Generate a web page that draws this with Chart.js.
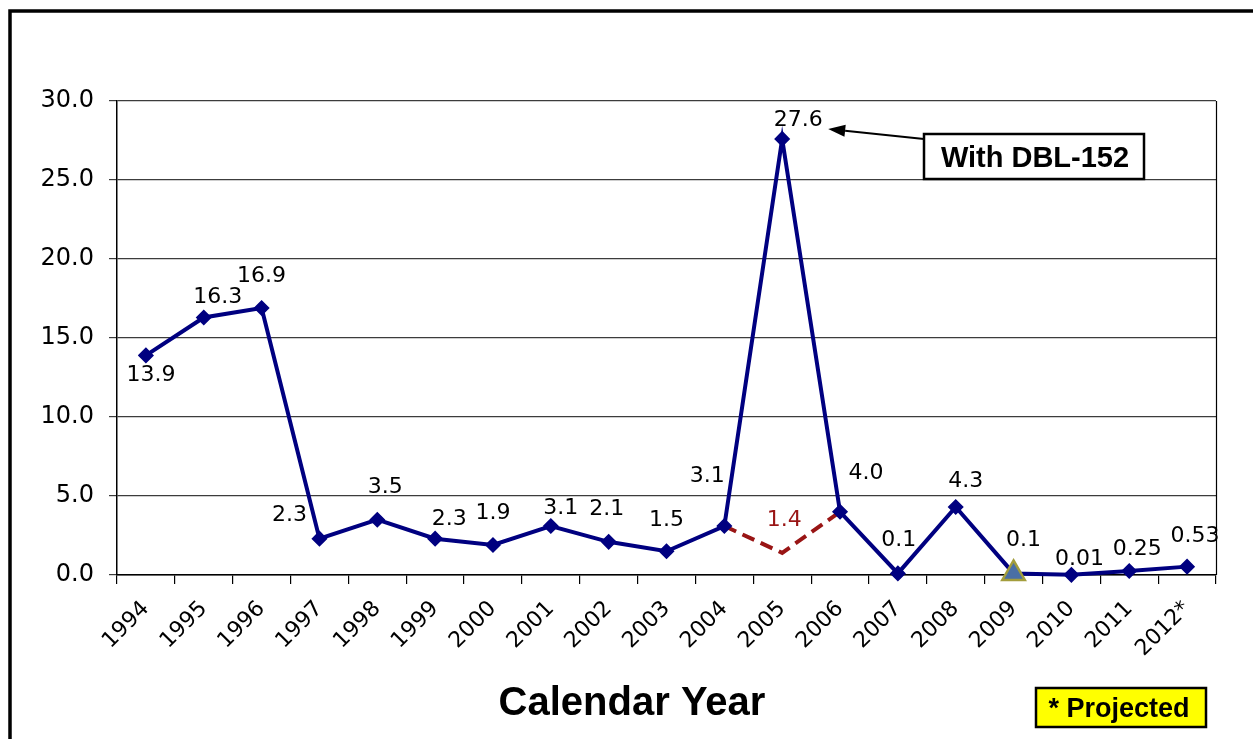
<!DOCTYPE html>
<html>
<head>
<meta charset="utf-8">
<script src="https://cdn.jsdelivr.net/npm/chart.js@4.4.0/dist/chart.umd.min.js"></script>
<style>
  html, body { margin: 0; padding: 0; background: #ffffff; }
  #wrap { width: 1253px; height: 739px; position: relative; }
</style>
</head>
<body>
<div id="wrap"><canvas id="chart" width="1253" height="739"></canvas></div>
<script>
// Calendar years on the category axis
const years = ['1994', '1995', '1996', '1997', '1998', '1999', '2000', '2001', '2002', '2003',
               '2004', '2005', '2006', '2007', '2008', '2009', '2010', '2011', '2012*'];

// Main series (solid navy line)
const values = [13.9, 16.3, 16.9, 2.3, 3.5, 2.3, 1.9, 3.1, 2.1, 1.5,
                3.1, 27.6, 4.0, 0.1, 4.3, 0.1, 0.01, 0.25, 0.53];

// Alternative 2004-2006 path (dashed red line)
const altValues = [null, null, null, null, null, null, null, null, null, null,
                   3.1, 1.4, 4.0, null, null, null, null, null, null];

// Y axis tick values
const yTicks = [0, 5, 10, 15, 20, 25, 30];

// Label placement relative to each point (pixels)
const labelOffsets = [[5, 20], [14, -20], [0, -32], [-30, -23], [8, -32], [14, -19], [0, -32],
                      [10, -18], [-2, -33], [0, -31], [-17, -50], [16, -19], [26, -39], [1, -33],
                      [10, -26], [10, -33], [8, -16], [8, -22], [8, -30]];
const altLabelOffset = [2, -33];

const NAVY = '#000080';
const DARK_RED = '#991515';
const FONT = '"DejaVu Sans", Arial, sans-serif';
const BOLD_FONT = '"Liberation Sans", Arial, sans-serif';

function fmt(v) {
  return Math.abs(v * 10 - Math.round(v * 10)) < 1e-9 ? v.toFixed(1) : v.toFixed(2);
}

const pointStyles = years.map(y => (y === '2009' ? 'triangle' : 'rectRot'));
const pointRadii = years.map(y => (y === '2009' ? 13 : 7));
const pointFills = years.map(y => (y === '2009' ? '#4a6fa5' : NAVY));
const pointEdges = years.map(y => (y === '2009' ? '#a39d3c' : NAVY));
const pointEdgeWidths = years.map(y => (y === '2009' ? 2.5 : 1.5));

// Frame, plot right edge, value labels and annotations
const decorations = {
  id: 'decorations',
  beforeDraw(chart) {
    const ctx = chart.ctx;
    ctx.save();
    ctx.fillStyle = '#ffffff';
    ctx.fillRect(0, 0, chart.width, chart.height);
    ctx.restore();
  },
  afterDatasetsDraw(chart) {
    const ctx = chart.ctx;
    const area = chart.chartArea;
    ctx.save();

    // right edge of the plot area
    ctx.strokeStyle = '#000000';
    ctx.lineWidth = 1.2;
    ctx.beginPath();
    ctx.moveTo(area.right + 0.5, area.top);
    ctx.lineTo(area.right + 0.5, area.bottom);
    ctx.stroke();

    // value labels on the main series
    ctx.font = '22px ' + FONT;
    ctx.textAlign = 'center';
    ctx.textBaseline = 'middle';
    const meta = chart.getDatasetMeta(0);
    meta.data.forEach((pt, i) => {
      const [dx, dy] = labelOffsets[i];
      ctx.fillStyle = '#000000';
      ctx.fillText(fmt(values[i]), pt.x + dx, pt.y + dy);
    });

    // value label on the dashed path
    const altMeta = chart.getDatasetMeta(1);
    altValues.forEach((v, i) => {
      if (v === null || values[i] === v) return;
      const pt = altMeta.data[i];
      ctx.fillStyle = DARK_RED;
      ctx.fillText(fmt(v), pt.x + altLabelOffset[0], pt.y + altLabelOffset[1]);
    });

    // callout for the 2005 peak
    const peak = meta.data[years.indexOf('2005')];
    const tipX = peak.x + 46, tipY = peak.y - 10;
    const boxX = 924, boxY = 134, boxW = 220, boxH = 45;
    const tailX = boxX, tailY = 139;
    const ang = Math.atan2(tipY - tailY, tipX - tailX);
    const headLen = 17, headHalf = 6;
    ctx.strokeStyle = '#000000';
    ctx.lineWidth = 2;
    ctx.beginPath();
    ctx.moveTo(tailX, tailY);
    ctx.lineTo(tipX - Math.cos(ang) * headLen, tipY - Math.sin(ang) * headLen);
    ctx.stroke();
    ctx.fillStyle = '#000000';
    ctx.beginPath();
    ctx.moveTo(tipX, tipY);
    ctx.lineTo(tipX - Math.cos(ang) * headLen - Math.sin(ang) * headHalf,
               tipY - Math.sin(ang) * headLen + Math.cos(ang) * headHalf);
    ctx.lineTo(tipX - Math.cos(ang) * headLen + Math.sin(ang) * headHalf,
               tipY - Math.sin(ang) * headLen - Math.cos(ang) * headHalf);
    ctx.closePath();
    ctx.fill();

    ctx.fillStyle = '#ffffff';
    ctx.fillRect(boxX, boxY, boxW, boxH);
    ctx.lineWidth = 2.5;
    ctx.strokeRect(boxX, boxY, boxW, boxH);
    ctx.fillStyle = '#000000';
    ctx.font = 'bold 29px ' + BOLD_FONT;
    ctx.textAlign = 'center';
    ctx.textBaseline = 'alphabetic';
    ctx.fillText('With DBL-152', boxX + boxW / 2 + 1, 167);

    // axis title
    ctx.font = 'bold 40px ' + BOLD_FONT;
    ctx.fillText('Calendar Year', 632, 715);

    // projected note
    ctx.fillStyle = '#ffff00';
    ctx.fillRect(1036, 688, 170, 39);
    ctx.strokeStyle = '#000000';
    ctx.lineWidth = 2.5;
    ctx.strokeRect(1036, 688, 170, 39);
    ctx.fillStyle = '#000000';
    ctx.font = 'bold 27px ' + BOLD_FONT;
    ctx.fillText('* Projected', 1119, 717);

    // outer frame
    ctx.lineWidth = 3.5;
    ctx.strokeStyle = '#000000';
    ctx.strokeRect(10, 11, 1400, 900);

    ctx.restore();
  }
};

new Chart(document.getElementById('chart'), {
  type: 'line',
  data: {
    labels: years,
    datasets: [
      {
        data: values,
        borderColor: NAVY,
        borderWidth: 4,
        pointStyle: pointStyles,
        pointRadius: pointRadii,
        pointBackgroundColor: pointFills,
        pointBorderColor: pointEdges,
        pointBorderWidth: pointEdgeWidths,
        tension: 0,
        clip: false
      },
      {
        data: altValues,
        borderColor: DARK_RED,
        borderWidth: 4,
        borderDash: [13, 7],
        pointRadius: 0,
        tension: 0,
        spanGaps: false,
        clip: false
      }
    ]
  },
  options: {
    responsive: false,
    animation: false,
    devicePixelRatio: 1,
    layout: { padding: { top: 101, right: 37, left: 0, bottom: 0 } },
    plugins: {
      legend: { display: false },
      tooltip: { enabled: false },
      title: { display: false }
    },
    scales: {
      x: {
        type: 'category',
        offset: true,
        grid: {
          offset: true,
          drawOnChartArea: false,
          drawTicks: true,
          tickLength: 9,
          color: '#000000',
          lineWidth: 1.2
        },
        border: { display: true, color: '#000000', width: 1.5 },
        ticks: {
          maxRotation: 45,
          minRotation: 45,
          autoSkip: false,
          padding: 12,
          color: '#000000',
          font: { family: FONT, size: 22 }
        },
        afterFit(scale) { scale.height = 164; }
      },
      y: {
        min: 0,
        max: 30,
        afterBuildTicks(scale) { scale.ticks = yTicks.map(v => ({ value: v })); },
        grid: {
          color: '#3c3c3c',
          lineWidth: 1.2,
          drawTicks: true,
          tickLength: 8
        },
        border: { display: true, color: '#000000', width: 1.5 },
        ticks: {
          padding: 15,
          color: '#000000',
          font: { family: FONT, size: 24 },
          callback: v => v.toFixed(1)
        },
        afterFit(scale) { scale.width = 117; }
      }
    }
  },
  plugins: [decorations]
});
</script>
</body>
</html>
